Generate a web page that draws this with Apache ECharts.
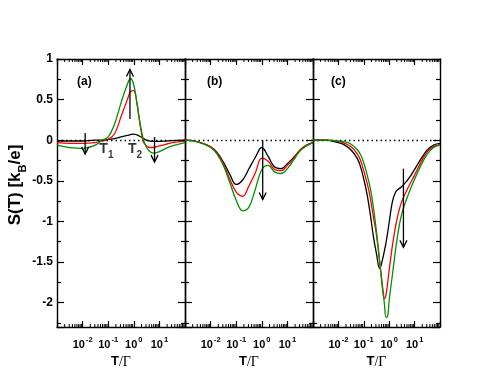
<!DOCTYPE html>
<html>
<head>
<meta charset="utf-8">
<script src="https://cdn.jsdelivr.net/npm/echarts@6/dist/echarts.min.js"></script>
<style>
  html, body { margin: 0; background: #fff; }
  #chart { width: 498px; height: 385px; }
</style>
</head>
<body>
<div id="chart"></div>
<script>
// log10(T/Gamma) sample points and S(T) readings, one set per panel
const logTA = [-3, -2.5, -2, -1.5, -1.25, -1, -0.75, -0.5, -0.25, -0.125, 0, 0.125, 0.25, 0.375, 0.5, 0.625, 0.75, 1, 1.25, 1.5, 2];
const blackA = [-0.01, -0.01, -0.01, 0, 0, 0.01, 0.02, 0.04, 0.06, 0.07, 0.075, 0.065, 0.045, 0.02, 0, -0.01, -0.015, -0.015, -0.01, -0.005, 0];
const redA = [-0.03, -0.04, -0.04, -0.03, -0.01, 0.01, 0.08, 0.29, 0.50, 0.60, 0.61, 0.45, 0.18, -0.02, -0.07, -0.09, -0.09, -0.07, -0.05, -0.03, -0.01];
const greenA = [-0.06, -0.09, -0.10, -0.06, 0, 0.04, 0.20, 0.46, 0.69, 0.76, 0.68, 0.45, 0.20, 0.01, -0.09, -0.14, -0.16, -0.14, -0.10, -0.07, -0.03];

const logTB = [-3, -2.5, -2, -1.75, -1.5, -1.25, -1, -0.75, -0.5, -0.25, 0, 0.25, 0.5, 0.75, 1, 1.25, 1.5, 1.75, 2];
const blackB = [0, -0.02, -0.08, -0.15, -0.27, -0.42, -0.545, -0.49, -0.35, -0.21, -0.09, -0.20, -0.33, -0.35, -0.29, -0.21, -0.12, -0.06, -0.03];
const redB = [0, -0.02, -0.08, -0.16, -0.29, -0.48, -0.64, -0.69, -0.56, -0.40, -0.22, -0.26, -0.36, -0.375, -0.31, -0.22, -0.12, -0.06, -0.03];
const greenB = [0, -0.02, -0.09, -0.17, -0.31, -0.52, -0.74, -0.87, -0.82, -0.60, -0.36, -0.31, -0.39, -0.41, -0.35, -0.24, -0.13, -0.07, -0.03];

const logTC = [-3, -2.5, -2, -1.75, -1.5, -1.25, -1.125, -1, -0.875, -0.75, -0.625, -0.5, -0.375, -0.25, -0.1875, -0.125, -0.0625, 0, 0.125, 0.25, 0.375, 0.5, 0.75, 1, 1.25, 1.5, 1.75, 2];
const blackC = [0, 0, -0.03, -0.06, -0.12, -0.23, -0.33, -0.48, -0.66, -0.90, -1.18, -1.40, -1.58, -1.45, -1.36, -1.26, -1.14, -1.01, -0.76, -0.64, -0.60, -0.57, -0.48, -0.36, -0.23, -0.12, -0.06, -0.04];
const redC = [0, 0, -0.01, -0.04, -0.08, -0.17, -0.25, -0.38, -0.52, -0.70, -0.94, -1.17, -1.50, -1.86, -1.95, -1.90, -1.76, -1.60, -1.30, -1.06, -0.88, -0.75, -0.58, -0.43, -0.27, -0.14, -0.08, -0.05];
const greenC = [0, 0, -0.01, -0.02, -0.05, -0.12, -0.18, -0.28, -0.42, -0.58, -0.82, -1.13, -1.49, -1.84, -2.02, -2.18, -2.17, -1.97, -1.66, -1.35, -1.09, -0.90, -0.67, -0.48, -0.31, -0.17, -0.09, -0.06];

// arrows: [log10 T, S start, S end]
const arrowsA = [[-1.9, 0.09, -0.17], [-0.15, 0.26, 0.87], [0.81, 0.04, -0.27]];
const arrowsB = [[0.035, 0, -0.73]];
const arrowsC = [[0.56, -0.35, -1.32]];

// temperature markers in panel (a): [log10 T, S, subscript]
const tMarks = [[-1.07, -0.14, '1'], [0.05, -0.14, '2']];

const panelNames = ['(a)', '(b)', '(c)'];
const labelDecades = [-2, -1, 0, 1];
const minorFactors = [2, 3, 4, 5, 6, 7, 8, 9];
const decades = [-3, -2, -1, 0, 1];

const panels = [
  { logT: logTA, curves: [blackA, redA, greenA], arrows: arrowsA },
  { logT: logTB, curves: [blackB, redB, greenB], arrows: arrowsB },
  { logT: logTC, curves: [blackC, redC, greenC], arrows: arrowsC }
];
const colors = ['#000000', '#ff0000', '#009000'];
const FONT = 'Liberation Sans';

const toT = (l) => Math.pow(10, l);

const grids = [
  { left: 57, top: 59, width: 128, height: 268 },
  { left: 185, top: 59, width: 128, height: 268 },
  { left: 313, top: 59, width: 127, height: 268 }
];

const axisLine = { onZero: false, lineStyle: { color: '#000', width: 1.4 } };

const xAxes = [];
const yAxes = [];
grids.forEach((g, i) => {
  xAxes.push({
    type: 'log', gridIndex: i, min: 1e-3, max: 1e2, position: 'bottom',
    axisLine, splitLine: { show: false },
    axisTick: { inside: true, length: 6, lineStyle: { color: '#000', width: 1.2 } },
    axisLabel: {
      margin: 9,
      formatter: (v) => {
        const e = Math.round(Math.log10(v));
        return labelDecades.includes(e) ? '{b|10}{s|' + e + '}' : '';
      },
      rich: {
        b: { fontFamily: FONT, fontWeight: 'bold', fontSize: 11, color: '#000', verticalAlign: 'bottom' },
        s: { fontFamily: FONT, fontWeight: 'bold', fontSize: 7.5, color: '#000', verticalAlign: 'bottom', padding: [0, 0, 6, 1] }
      }
    },
    name: '{t|T}{g|/Γ}', nameLocation: 'middle', nameGap: 19,
    nameTextStyle: {
      rich: {
        t: { fontFamily: FONT, fontWeight: 'bold', fontSize: 13, color: '#000' },
        g: { fontFamily: 'Liberation Serif', fontSize: 14, color: '#000' }
      }
    }
  });
  xAxes.push({
    type: 'log', gridIndex: i, min: 1e-3, max: 1e2, position: 'top',
    axisLine, splitLine: { show: false }, axisLabel: { show: false },
    axisTick: { inside: true, length: 6, lineStyle: { color: '#000', width: 1.2 } }
  });
  const yBase = {
    type: 'value', gridIndex: i, min: -2.3, max: 1,
    axisLine, splitLine: { show: false },
    axisTick: { inside: true, length: 7, lineStyle: { color: '#000', width: 1.2 } },
    minorTick: { show: true, splitNumber: 2, length: 4, lineStyle: { color: '#000', width: 1.2 } }
  };
  yAxes.push(Object.assign({}, yBase, {
    position: 'left',
    axisLabel: {
      show: i === 0, margin: 4, fontFamily: FONT, fontWeight: 'bold', fontSize: 12, color: '#000',
      formatter: (v) => (Math.abs(v * 2 - Math.round(v * 2)) < 1e-6 ? String(v) : '')
    },
    name: i === 0 ? '{n|S(T) [k}{sub|B}{n|/e]}' : '',
    nameLocation: 'middle', nameGap: 26, nameRotate: 90,
    nameTextStyle: {
      padding: [0, 0, 0, 16],
      rich: {
        n: { fontFamily: FONT, fontWeight: 'bold', fontSize: 17, color: '#000', verticalAlign: 'bottom', padding: [0, 0, 5, 0] },
        sub: { fontFamily: FONT, fontWeight: 'bold', fontSize: 11, color: '#000', verticalAlign: 'bottom' }
      }
    }
  }));
  yAxes.push(Object.assign({}, yBase, { position: 'right', axisLabel: { show: false } }));
});

const series = [];
panels.forEach((p, i) => {
  p.curves.forEach((vals, k) => {
    series.push({
      type: 'line', xAxisIndex: i * 2, yAxisIndex: i * 2,
      data: p.logT.map((l, j) => [toT(l), vals[j]]),
      smooth: 0.4, showSymbol: false, z: 3 + k,
      lineStyle: { color: colors[k], width: 1.3 },
      markLine: k === 0 ? {
        silent: true, symbol: 'none', label: { show: false },
        lineStyle: { color: '#000', type: [1.5, 3], width: 1.3 },
        data: [{ yAxis: 0 }]
      } : undefined
    });
  });
  // minor log ticks on top and bottom edges
  const minors = [];
  decades.forEach((d) => minorFactors.forEach((f) => minors.push([f * toT(d), 0])));
  series.push({
    type: 'custom', xAxisIndex: i * 2, yAxisIndex: i * 2, silent: true, z: 10,
    data: minors,
    renderItem: (params, api) => {
      const x = api.coord([api.value(0), 0])[0];
      const cs = params.coordSys;
      const st = { stroke: '#000', lineWidth: 1 };
      return {
        type: 'group', children: [
          { type: 'line', shape: { x1: x, y1: cs.y + cs.height, x2: x, y2: cs.y + cs.height - 3 }, style: st },
          { type: 'line', shape: { x1: x, y1: cs.y, x2: x, y2: cs.y + 3 }, style: st }
        ]
      };
    }
  });
  // arrows
  series.push({
    type: 'custom', xAxisIndex: i * 2, yAxisIndex: i * 2, silent: true, z: 12,
    data: p.arrows.map((a) => [toT(a[0]), a[1], a[2]]),
    renderItem: (params, api) => {
      const a = api.coord([api.value(0), api.value(1)]);
      const b = api.coord([api.value(0), api.value(2)]);
      const dir = b[1] > a[1] ? 1 : -1;
      const st = { stroke: '#000', lineWidth: 1.3, fill: null };
      return {
        type: 'group', children: [
          { type: 'line', shape: { x1: a[0], y1: a[1], x2: b[0], y2: b[1] }, style: st },
          { type: 'polyline', shape: { points: [[b[0] - 3.5, b[1] - dir * 7], [b[0], b[1]], [b[0] + 3.5, b[1] - dir * 7]] }, style: st }
        ]
      };
    }
  });
});

// T1, T2 labels
series.push({
  type: 'scatter', xAxisIndex: 0, yAxisIndex: 0, symbolSize: 0, silent: true, z: 12,
  data: tMarks.map((m) => ({ value: [toT(m[0]), m[1]], sub: m[2] })),
  label: {
    show: true, position: 'inside', color: '#000', textBorderWidth: 0,
    formatter: (p) => '{n|T}{s|' + p.data.sub + '}',
    rich: {
      n: { fontFamily: FONT, fontWeight: 'bold', fontSize: 14, color: '#000', textBorderWidth: 0, verticalAlign: 'bottom', padding: [0, 0, 4, 0] },
      s: { fontFamily: FONT, fontWeight: 'bold', fontSize: 10, color: '#000', textBorderWidth: 0, verticalAlign: 'bottom' }
    }
  }
});

const titles = panelNames.map((t, i) => ({
  text: t, left: grids[i].left + [20, 22, 18][i], top: 76, padding: 0,
  textStyle: { fontFamily: FONT, fontWeight: 'bold', fontSize: 12, color: '#000' }
}));

const chart = echarts.init(document.getElementById('chart'), null, { renderer: 'canvas' });
chart.setOption({
  animation: false,
  backgroundColor: '#fff',
  title: titles,
  grid: grids,
  xAxis: xAxes,
  yAxis: yAxes,
  series
});
</script>
</body>
</html>
